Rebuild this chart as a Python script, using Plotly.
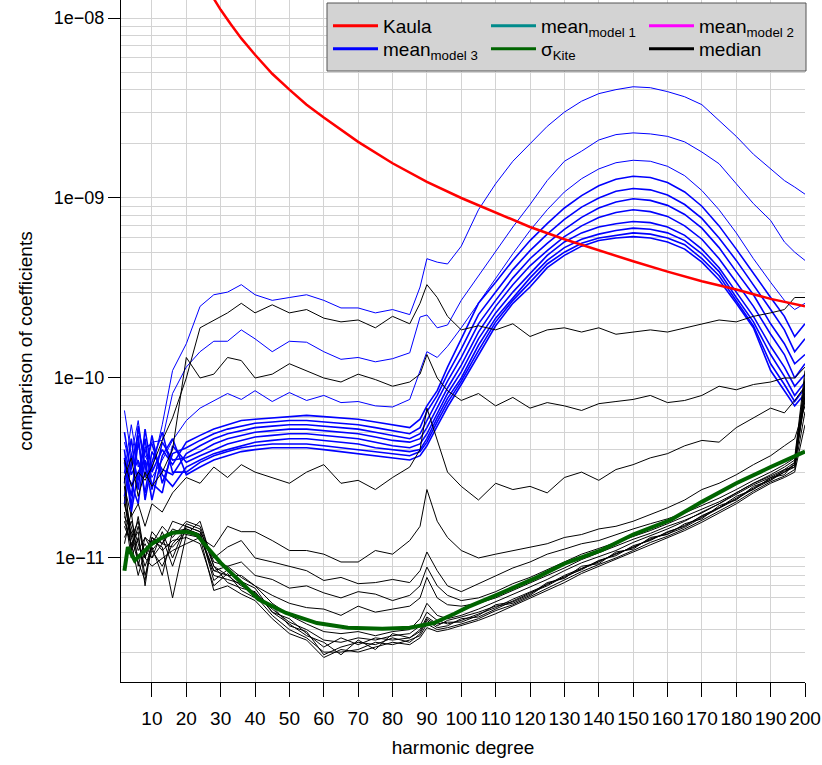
import plotly.graph_objects as go

# ---------------- data ----------------
deg = [2, 4, 6, 8, 10, 13, 16, 20,
       24, 28, 32, 36, 40, 45, 50, 55,
       60, 65, 70, 75, 80, 85, 88, 90,
       93, 96, 100, 105, 110, 115, 120, 125,
       130, 135, 140, 145, 150, 155, 160, 165,
       170, 175, 180, 185, 190, 194, 197, 200]

kaula_deg = [28, 30, 33, 36, 40, 45, 50, 55, 60, 70, 80, 90, 100, 110, 120,
             130, 140, 150, 160, 170, 180, 190, 200]
kaula = [1.28e-8, 1.11e-8, 9.2e-9, 7.7e-9, 6.25e-9, 4.9e-9, 4.0e-9, 3.3e-9, 2.8e-9,
         2.05e-9, 1.56e-9, 1.23e-9, 1.0e-9, 8.3e-10, 6.9e-10, 5.9e-10, 5.1e-10,
         4.45e-10, 3.9e-10, 3.45e-10, 3.1e-10, 2.75e-10, 2.5e-10]

sigma_deg = [2, 3, 5, 8, 10, 13, 16, 20, 23, 26, 30, 36, 41, 49, 58, 67, 77, 85,
             92, 98, 102, 110, 122, 130, 141, 150, 161, 170, 180, 190, 200]
sigma_kite = [8.5e-12, 1.15e-11, 9.7e-12, 1.1e-11, 1.2e-11, 1.3e-11, 1.38e-11, 1.4e-11,
              1.35e-11, 1.15e-11, 9.4e-12, 7.3e-12, 5.9e-12, 4.95e-12, 4.35e-12, 4.1e-12,
              4.05e-12, 4.1e-12, 4.35e-12, 4.9e-12, 5.35e-12, 6.2e-12, 7.8e-12, 9.3e-12,
              1.11e-11, 1.35e-11, 1.63e-11, 2.05e-11, 2.6e-11, 3.2e-11, 3.9e-11]

# model 3 means (blue)
blue_1 = [4.4e-11, 3.1e-11, 5.1e-11, 3.7e-11, 3.1e-11, 5.5e-11, 1.1e-10, 1.55e-10,
          2.5e-10, 2.9e-10, 3.0e-10, 3.3e-10, 2.9e-10, 2.7e-10, 2.8e-10, 2.9e-10,
          2.7e-10, 2.45e-10, 2.45e-10, 2.3e-10, 2.4e-10, 2.25e-10, 3.2e-10, 4.6e-10,
          4.4e-10, 4.3e-10, 5.4e-10, 8.6e-10, 1.2e-9, 1.6e-9, 2.0e-9, 2.5e-9,
          3.0e-9, 3.45e-9, 3.8e-9, 4.0e-9, 4.15e-9, 4.1e-9, 3.9e-9, 3.65e-9,
          3.3e-9, 2.7e-9, 2.2e-9, 1.75e-9, 1.45e-9, 1.25e-9, 1.15e-9, 1.05e-9]
blue_2 = [6.6e-11, 3.7e-11, 5.8e-11, 3.1e-11, 4.4e-11, 4.5e-11, 8.2e-11, 1.15e-10,
          1.4e-10, 1.6e-10, 1.6e-10, 1.85e-10, 1.65e-10, 1.4e-10, 1.6e-10, 1.58e-10,
          1.4e-10, 1.27e-10, 1.3e-10, 1.23e-10, 1.28e-10, 1.38e-10, 2.18e-10, 2.24e-10,
          1.9e-10, 1.97e-10, 2.7e-10, 3.7e-10, 5.0e-10, 6.9e-10, 9.2e-10, 1.25e-9,
          1.6e-9, 1.82e-9, 2.1e-9, 2.25e-9, 2.3e-9, 2.27e-9, 2.2e-9, 2.05e-9,
          1.8e-9, 1.55e-9, 1.2e-9, 9.3e-10, 7.5e-10, 5.7e-10, 5.0e-10, 4.5e-10]
blue_3 = [3.0e-11, 5.5e-11, 3.2e-11, 4.0e-11, 2.8e-11, 3.5e-11, 4.5e-11, 5.8e-11,
          6.8e-11, 7.5e-11, 8.2e-11, 7.6e-11, 8.5e-11, 7.4e-11, 8.3e-11, 7.5e-11,
          8.0e-11, 7.3e-11, 7.4e-11, 7.0e-11, 6.9e-11, 7.6e-11, 1.1e-10, 1.4e-10,
          1.3e-10, 1.5e-10, 1.9e-10, 2.6e-10, 3.6e-10, 4.9e-10, 6.6e-10, 8.6e-10,
          1.08e-9, 1.28e-9, 1.45e-9, 1.57e-9, 1.62e-9, 1.6e-9, 1.5e-9, 1.33e-9,
          1.1e-9, 8.6e-10, 6.4e-10, 4.6e-10, 3.4e-10, 2.7e-10, 2.4e-10, 2.6e-10]
blue_4 = [2.6e-11, 4.6e-11, 2.4e-11, 5.2e-11, 3.0e-11, 4.0e-11, 3.3e-11, 4.4e-11,
          4.8e-11, 5.2e-11, 5.5e-11, 5.8e-11, 5.9e-11, 6.0e-11, 6.1e-11, 6.2e-11,
          6.1e-11, 6.0e-11, 5.9e-11, 5.7e-11, 5.5e-11, 5.3e-11, 5.9e-11, 7.0e-11,
          8.5e-11, 1.15e-10, 1.65e-10, 2.6e-10, 3.4e-10, 4.5e-10, 5.8e-10, 7.2e-10,
          8.8e-10, 1.03e-9, 1.17e-9, 1.27e-9, 1.32e-9, 1.3e-9, 1.22e-9, 1.08e-9,
          9.0e-10, 7.0e-10, 5.2e-10, 3.8e-10, 2.8e-10, 2.2e-10, 1.7e-10, 2.0e-10]
blue_5 = [3.4e-11, 2.2e-11, 4.4e-11, 2.8e-11, 4.8e-11, 2.6e-11, 3.8e-11, 4.1e-11,
          4.5e-11, 4.9e-11, 5.2e-11, 5.4e-11, 5.6e-11, 5.7e-11, 5.8e-11, 5.8e-11,
          5.7e-11, 5.6e-11, 5.5e-11, 5.3e-11, 5.1e-11, 4.9e-11, 5.3e-11, 6.5e-11,
          8.0e-11, 1.05e-10, 1.45e-10, 2.25e-10, 3.0e-10, 4.0e-10, 5.1e-10, 6.3e-10,
          7.6e-10, 8.9e-10, 1.0e-9, 1.09e-9, 1.13e-9, 1.11e-9, 1.04e-9, 9.2e-10,
          7.7e-10, 6.0e-10, 4.5e-10, 3.3e-10, 2.4e-10, 1.85e-10, 1.4e-10, 1.65e-10]
blue_6 = [5.0e-11, 2.9e-11, 3.5e-11, 2.3e-11, 3.9e-11, 3.1e-11, 2.9e-11, 3.8e-11,
          4.2e-11, 4.6e-11, 4.9e-11, 5.1e-11, 5.3e-11, 5.4e-11, 5.5e-11, 5.5e-11,
          5.4e-11, 5.3e-11, 5.2e-11, 5.0e-11, 4.8e-11, 4.6e-11, 4.9e-11, 5.8e-11,
          7.4e-11, 9.6e-11, 1.3e-10, 2.0e-10, 2.7e-10, 3.6e-10, 4.6e-10, 5.6e-10,
          6.7e-10, 7.8e-10, 8.8e-10, 9.5e-10, 9.9e-10, 9.7e-10, 9.1e-10, 8.1e-10,
          6.8e-10, 5.3e-10, 3.9e-10, 2.9e-10, 2.0e-10, 1.55e-10, 1.2e-10, 1.35e-10]
blue_7 = [2.2e-11, 3.8e-11, 2.7e-11, 4.6e-11, 2.4e-11, 4.4e-11, 3.5e-11, 3.6e-11,
          3.9e-11, 4.3e-11, 4.6e-11, 4.8e-11, 5.0e-11, 5.1e-11, 5.2e-11, 5.2e-11,
          5.1e-11, 5.0e-11, 4.9e-11, 4.7e-11, 4.5e-11, 4.4e-11, 4.6e-11, 5.3e-11,
          6.8e-11, 8.8e-11, 1.18e-10, 1.8e-10, 2.5e-10, 3.3e-10, 4.2e-10, 5.1e-10,
          6.1e-10, 7.0e-10, 7.8e-10, 8.3e-10, 8.6e-10, 8.4e-10, 7.9e-10, 7.0e-10,
          5.9e-10, 4.6e-10, 3.4e-10, 2.5e-10, 1.75e-10, 1.35e-10, 1.0e-10, 1.2e-10]
blue_8 = [4.0e-11, 1.9e-11, 5.4e-11, 3.2e-11, 2.6e-11, 2.3e-11, 4.2e-11, 3.4e-11,
          3.7e-11, 4.0e-11, 4.3e-11, 4.5e-11, 4.7e-11, 4.8e-11, 4.9e-11, 4.9e-11,
          4.8e-11, 4.7e-11, 4.6e-11, 4.4e-11, 4.2e-11, 4.1e-11, 4.3e-11, 4.9e-11,
          6.3e-11, 8.2e-11, 1.08e-10, 1.65e-10, 2.3e-10, 3.0e-10, 3.8e-10, 4.8e-10,
          5.7e-10, 6.4e-10, 6.9e-10, 7.2e-10, 7.4e-10, 7.3e-10, 6.9e-10, 6.2e-10,
          5.2e-10, 4.1e-10, 3.0e-10, 2.2e-10, 1.5e-10, 1.15e-10, 9.0e-11, 1.05e-10]
blue_9 = [3.0e-11, 2.6e-11, 2.0e-11, 4.1e-11, 4.3e-11, 2.9e-11, 2.5e-11, 3.2e-11,
          3.5e-11, 3.8e-11, 4.0e-11, 4.2e-11, 4.4e-11, 4.5e-11, 4.6e-11, 4.6e-11,
          4.5e-11, 4.4e-11, 4.3e-11, 4.1e-11, 4.0e-11, 3.9e-11, 4.0e-11, 4.6e-11,
          6.0e-11, 7.7e-11, 1.0e-10, 1.52e-10, 2.15e-10, 2.8e-10, 3.6e-10, 4.5e-10,
          5.3e-10, 5.9e-10, 6.3e-10, 6.6e-10, 6.8e-10, 6.7e-10, 6.4e-10, 5.8e-10,
          4.9e-10, 3.9e-10, 2.8e-10, 2.05e-10, 1.35e-10, 1.02e-10, 8.0e-11, 9.5e-11]
blue_10 = [2.0e-11, 3.3e-11, 4.8e-11, 2.1e-11, 3.4e-11, 5.0e-11, 3.0e-11, 3.0e-11,
           3.4e-11, 3.7e-11, 3.9e-11, 4.1e-11, 4.2e-11, 4.3e-11, 4.3e-11, 4.3e-11,
           4.2e-11, 4.1e-11, 4.0e-11, 3.9e-11, 3.8e-11, 3.7e-11, 3.9e-11, 4.4e-11,
           5.7e-11, 7.3e-11, 9.6e-11, 1.42e-10, 2.05e-10, 2.7e-10, 3.4e-10, 4.3e-10,
           5.0e-10, 5.6e-10, 6.0e-10, 6.2e-10, 6.4e-10, 6.3e-10, 6.0e-10, 5.5e-10,
           4.6e-10, 3.7e-10, 2.7e-10, 1.95e-10, 1.2e-10, 9.2e-11, 7.4e-11, 8.8e-11]
blue_11 = [3.6e-11, 1.8e-11, 3.0e-11, 3.5e-11, 2.1e-11, 3.7e-11, 4.6e-11, 2.9e-11,
           3.2e-11, 3.5e-11, 3.7e-11, 3.9e-11, 4.0e-11, 4.1e-11, 4.1e-11, 4.1e-11,
           4.0e-11, 3.9e-11, 3.8e-11, 3.7e-11, 3.6e-11, 3.5e-11, 3.7e-11, 4.2e-11,
           5.4e-11, 6.9e-11, 9.2e-11, 1.35e-10, 1.95e-10, 2.6e-10, 3.2e-10, 4.1e-10,
           4.8e-10, 5.4e-10, 5.8e-10, 6.0e-10, 6.1e-10, 6.0e-10, 5.7e-10, 5.2e-10,
           4.4e-10, 3.5e-10, 2.6e-10, 1.9e-10, 1.1e-10, 8.5e-11, 7.0e-11, 8.2e-11]

# medians (black)
black_1 = [3.5e-11, 2.5e-11, 3.0e-11, 2.7e-11, 3.2e-11, 4.5e-11, 6.0e-11, 1.0e-10,
           1.9e-10, 2.1e-10, 2.3e-10, 2.6e-10, 2.3e-10, 2.55e-10, 2.3e-10, 2.4e-10,
           2.15e-10, 2.05e-10, 2.1e-10, 1.9e-10, 2.2e-10, 2.0e-10, 2.6e-10, 3.3e-10,
           2.8e-10, 2.2e-10, 1.85e-10, 1.95e-10, 1.85e-10, 2.0e-10, 1.7e-10, 1.85e-10,
           1.9e-10, 1.8e-10, 1.9e-10, 1.75e-10, 1.8e-10, 1.85e-10, 1.8e-10, 1.9e-10,
           2.0e-10, 2.1e-10, 2.05e-10, 2.2e-10, 2.3e-10, 2.4e-10, 2.8e-10, 2.8e-10]
black_2 = [2.8e-11, 3.6e-11, 2.2e-11, 3.0e-11, 2.5e-11, 3.0e-11, 4.0e-11, 1.3e-10,
           1.0e-10, 1.05e-10, 1.3e-10, 1.25e-10, 1.0e-10, 1.05e-10, 1.2e-10, 1.1e-10,
           1.0e-10, 9.5e-11, 1.05e-10, 9.8e-11, 9.0e-11, 9.5e-11, 1.05e-10, 1.35e-10,
           1.0e-10, 8.5e-11, 7.5e-11, 8.2e-11, 7.0e-11, 7.8e-11, 6.8e-11, 7.3e-11,
           7.0e-11, 6.6e-11, 7.2e-11, 7.4e-11, 7.6e-11, 8.0e-11, 7.3e-11, 7.5e-11,
           8.0e-11, 9.0e-11, 8.6e-11, 9.2e-11, 9.5e-11, 1.0e-10, 1.0e-10, 1.15e-10]
black_3 = [2.5e-11, 1.7e-11, 2.0e-11, 1.5e-11, 2.0e-11, 1.8e-11, 2.3e-11, 2.8e-11,
           2.6e-11, 3.2e-11, 2.8e-11, 3.3e-11, 3.0e-11, 2.8e-11, 2.6e-11, 3.0e-11,
           3.3e-11, 2.6e-11, 2.7e-11, 2.4e-11, 2.8e-11, 3.2e-11, 4.0e-11, 6.8e-11,
           4.5e-11, 3.0e-11, 2.5e-11, 2.1e-11, 2.6e-11, 2.4e-11, 2.5e-11, 2.3e-11,
           2.8e-11, 3.0e-11, 2.7e-11, 3.1e-11, 3.3e-11, 3.6e-11, 3.8e-11, 4.2e-11,
           4.5e-11, 4.4e-11, 5.3e-11, 6.0e-11, 6.8e-11, 6.4e-11, 7.5e-11, 9.0e-11]
black_4 = [2.0e-11, 1.3e-11, 1.6e-11, 1.0e-11, 1.3e-11, 1.2e-11, 1.45e-11, 1.35e-11,
           1.3e-11, 1.15e-11, 1.5e-11, 1.4e-11, 1.4e-11, 1.25e-11, 1.1e-11, 1.1e-11,
           1.05e-11, 9.5e-12, 9.5e-12, 1.1e-11, 1.05e-11, 1.25e-11, 1.5e-11, 2.4e-11,
           1.6e-11, 1.3e-11, 1.1e-11, 1.0e-11, 1.05e-11, 1.1e-11, 1.15e-11, 1.2e-11,
           1.3e-11, 1.35e-11, 1.45e-11, 1.5e-11, 1.6e-11, 1.75e-11, 1.9e-11, 2.1e-11,
           2.4e-11, 2.6e-11, 2.9e-11, 3.3e-11, 3.7e-11, 4.2e-11, 4.6e-11, 7.0e-11]
black_5 = [2.8e-11, 1.1e-11, 1.7e-11, 1.0e-11, 1.4e-11, 1.2e-11, 1.6e-11, 1.5e-11,
           1.4e-11, 1.0e-11, 1.15e-11, 1.25e-11, 1.0e-11, 9.5e-12, 9.0e-12, 8.5e-12,
           7.5e-12, 7.8e-12, 7.2e-12, 7.3e-12, 7.6e-12, 7.3e-12, 8.5e-12, 1.08e-11,
           8.5e-12, 7.0e-12, 6.5e-12, 7.2e-12, 8.0e-12, 8.8e-12, 9.5e-12, 1.05e-11,
           1.12e-11, 1.2e-11, 1.25e-11, 1.35e-11, 1.45e-11, 1.55e-11, 1.65e-11, 1.78e-11,
           1.95e-11, 2.15e-11, 2.4e-11, 2.7e-11, 3.0e-11, 3.3e-11, 3.6e-11, 1.1e-10]
black_6 = [1.2e-11, 1.8e-11, 9.0e-12, 1.3e-11, 1.1e-11, 9.0e-12, 1.2e-11, 1.45e-11,
           1.35e-11, 8.5e-12, 9.0e-12, 9.5e-12, 8.0e-12, 7.6e-12, 6.8e-12, 7.0e-12,
           6.4e-12, 6.0e-12, 6.5e-12, 6.3e-12, 5.8e-12, 6.2e-12, 7.0e-12, 8.9e-12,
           7.0e-12, 6.2e-12, 5.8e-12, 6.0e-12, 6.5e-12, 7.2e-12, 7.8e-12, 8.6e-12,
           9.5e-12, 1.05e-11, 1.13e-11, 1.22e-11, 1.32e-11, 1.42e-11, 1.55e-11, 1.7e-11,
           1.85e-11, 2.05e-11, 2.3e-11, 2.6e-11, 2.85e-11, 3.1e-11, 3.4e-11, 9.5e-11]
black_7 = [1.6e-11, 1.2e-11, 1.4e-11, 7.0e-12, 1.25e-11, 1.15e-11, 6.0e-12, 1.35e-11,
           1.6e-11, 9.0e-12, 8.0e-12, 8.0e-12, 7.0e-12, 6.2e-12, 5.6e-12, 5.3e-12,
           5.2e-12, 4.8e-12, 5.4e-12, 5.0e-12, 5.2e-12, 5.4e-12, 6.0e-12, 7.8e-12,
           6.0e-12, 5.5e-12, 5.4e-12, 5.6e-12, 6.0e-12, 6.6e-12, 7.3e-12, 8.0e-12,
           8.8e-12, 9.8e-12, 1.07e-11, 1.16e-11, 1.27e-11, 1.37e-11, 1.5e-11, 1.62e-11,
           1.78e-11, 2.0e-11, 2.25e-11, 2.55e-11, 2.8e-11, 3.05e-11, 3.3e-11, 8.0e-11]
black_8 = [2.0e-11, 1.5e-11, 1.1e-11, 1.3e-11, 1.2e-11, 1.5e-11, 1.3e-11, 1.6e-11,
           1.5e-11, 9.5e-12, 9.0e-12, 7.8e-12, 7.0e-12, 5.6e-12, 4.8e-12, 4.3e-12,
           3.9e-12, 3.8e-12, 3.9e-12, 3.7e-12, 3.9e-12, 4.0e-12, 4.6e-12, 5.6e-12,
           4.8e-12, 4.6e-12, 4.8e-12, 5.2e-12, 5.7e-12, 6.3e-12, 6.9e-12, 7.6e-12,
           8.5e-12, 9.4e-12, 1.02e-11, 1.1e-11, 1.22e-11, 1.33e-11, 1.45e-11, 1.6e-11,
           1.8e-11, 2.0e-11, 2.3e-11, 2.6e-11, 2.9e-11, 3.2e-11, 3.5e-11, 1.0e-10]
black_9 = [1.5e-11, 1.2e-11, 8.0e-12, 1.1e-11, 1.0e-11, 1.2e-11, 1.15e-11, 1.4e-11,
           1.3e-11, 8.5e-12, 8.0e-12, 7.0e-12, 6.4e-12, 5.2e-12, 4.4e-12, 4.0e-12,
           3.5e-12, 3.4e-12, 3.6e-12, 3.5e-12, 3.7e-12, 3.8e-12, 4.2e-12, 5.0e-12,
           4.5e-12, 4.3e-12, 4.5e-12, 4.9e-12, 5.3e-12, 5.9e-12, 6.5e-12, 7.1e-12,
           8.0e-12, 8.8e-12, 9.6e-12, 1.05e-11, 1.15e-11, 1.27e-11, 1.38e-11, 1.52e-11,
           1.7e-11, 1.9e-11, 2.15e-11, 2.45e-11, 2.75e-11, 3.0e-11, 3.3e-11, 8.5e-11]
black_10 = [1.8e-11, 1.0e-11, 1.3e-11, 8.0e-12, 1.1e-11, 1.3e-11, 9.0e-12, 1.5e-11,
            1.4e-11, 7.5e-12, 8.6e-12, 7.4e-12, 6.8e-12, 5.0e-12, 4.6e-12, 3.8e-12,
            3.2e-12, 3.6e-12, 3.3e-12, 3.6e-12, 3.5e-12, 3.6e-12, 4.0e-12, 4.7e-12,
            4.3e-12, 4.4e-12, 4.4e-12, 4.8e-12, 5.5e-12, 5.7e-12, 6.3e-12, 7.3e-12,
            7.7e-12, 9.0e-12, 9.3e-12, 1.08e-11, 1.12e-11, 1.3e-11, 1.35e-11, 1.55e-11,
            1.65e-11, 1.95e-11, 2.1e-11, 2.5e-11, 2.7e-11, 3.1e-11, 3.2e-11, 9.0e-11]
black_11 = [2.5e-11, 1.3e-11, 9.5e-12, 7.5e-12, 1.3e-11, 1.1e-11, 1.25e-11, 1.3e-11,
            1.2e-11, 7.0e-12, 8.2e-12, 6.6e-12, 6.0e-12, 5.4e-12, 4.2e-12, 3.9e-12,
            2.9e-12, 3.2e-12, 3.4e-12, 3.3e-12, 3.6e-12, 3.4e-12, 3.8e-12, 4.5e-12,
            4.1e-12, 4.2e-12, 4.6e-12, 4.7e-12, 5.2e-12, 5.8e-12, 6.4e-12, 7.0e-12,
            7.9e-12, 8.6e-12, 9.7e-12, 1.03e-11, 1.17e-11, 1.25e-11, 1.4e-11, 1.5e-11,
            1.72e-11, 1.9e-11, 2.2e-11, 2.4e-11, 2.8e-11, 2.9e-11, 3.4e-11, 7.5e-11]
black_12 = [1.3e-11, 1.6e-11, 1.2e-11, 9.0e-12, 1.15e-11, 8.0e-12, 1.4e-11, 1.45e-11,
            1.35e-11, 8.0e-12, 7.6e-12, 7.2e-12, 6.2e-12, 4.8e-12, 4.0e-12, 3.6e-12,
            3.0e-12, 3.0e-12, 3.1e-12, 3.4e-12, 3.3e-12, 3.5e-12, 3.7e-12, 4.3e-12,
            4.0e-12, 4.1e-12, 4.3e-12, 4.6e-12, 5.1e-12, 5.5e-12, 6.1e-12, 6.8e-12,
            7.5e-12, 8.4e-12, 9.2e-12, 1.0e-11, 1.1e-11, 1.22e-11, 1.32e-11, 1.45e-11,
            1.62e-11, 1.82e-11, 2.05e-11, 2.35e-11, 2.65e-11, 2.85e-11, 3.1e-11, 6.5e-11]
black_13 = [2.2e-11, 1.1e-11, 1.5e-11, 1.0e-11, 9.0e-12, 1.0e-11, 1.1e-11, 1.2e-11,
            1.3e-11, 6.6e-12, 7.0e-12, 6.3e-12, 5.8e-12, 4.6e-12, 3.8e-12, 3.5e-12,
            2.8e-12, 3.1e-12, 3.0e-12, 3.2e-12, 3.4e-12, 3.3e-12, 3.6e-12, 4.1e-12,
            3.9e-12, 4.0e-12, 4.2e-12, 4.5e-12, 4.9e-12, 5.4e-12, 6.0e-12, 6.6e-12,
            7.3e-12, 8.2e-12, 9.0e-12, 9.8e-12, 1.08e-11, 1.18e-11, 1.3e-11, 1.42e-11,
            1.58e-11, 1.78e-11, 2.0e-11, 2.3e-11, 2.6e-11, 2.8e-11, 3.0e-11, 5.5e-11]
black_14 = [1.7e-11, 1.4e-11, 1.0e-11, 1.2e-11, 1.0e-11, 1.4e-11, 1.0e-11, 1.55e-11,
            1.45e-11, 9.0e-12, 7.3e-12, 6.8e-12, 6.5e-12, 5.0e-12, 4.3e-12, 3.7e-12,
            3.4e-12, 2.9e-12, 3.5e-12, 3.1e-12, 3.8e-12, 3.6e-12, 3.9e-12, 4.6e-12,
            4.2e-12, 4.5e-12, 4.7e-12, 5.0e-12, 5.4e-12, 5.6e-12, 6.2e-12, 7.2e-12,
            7.8e-12, 8.7e-12, 9.5e-12, 1.06e-11, 1.14e-11, 1.28e-11, 1.36e-11, 1.48e-11,
            1.68e-11, 1.88e-11, 2.12e-11, 2.42e-11, 2.7e-11, 3.0e-11, 3.2e-11, 8.0e-11]

x_tick_vals = list(range(10, 201, 10))
y_tick_vals = [1e-11, 1e-10, 1e-9, 1e-8]
y_tick_text = ["1e\u221211", "1e\u221210", "1e\u221209", "1e\u221208"]

blue_outer = [blue_1, blue_2, blue_3]
blue_band = [blue_4, blue_5, blue_6, blue_7, blue_8, blue_9, blue_10, blue_11]
black_series = [black_1, black_2, black_3, black_4, black_5, black_6, black_7,
                black_8, black_9, black_10, black_11, black_12, black_13, black_14]

# ---------------- figure ----------------
fig = go.Figure()
for s in blue_outer:
    fig.add_trace(go.Scatter(x=deg, y=s, mode="lines", line=dict(color="#0000FF", width=1),
                             showlegend=False, hoverinfo="skip"))
for s in blue_band:
    fig.add_trace(go.Scatter(x=deg, y=s, mode="lines", line=dict(color="#0000FF", width=1.6),
                             showlegend=False, hoverinfo="skip"))
for s in black_series:
    fig.add_trace(go.Scatter(x=deg, y=s, mode="lines", line=dict(color="#000000", width=1),
                             showlegend=False, hoverinfo="skip"))
fig.add_trace(go.Scatter(x=sigma_deg, y=sigma_kite, mode="lines",
                         line=dict(color="#006400", width=4), showlegend=False, hoverinfo="skip"))
fig.add_trace(go.Scatter(x=kaula_deg, y=kaula, mode="lines",
                         line=dict(color="#FF0000", width=2.5), showlegend=False, hoverinfo="skip"))

# legend entries (two rows)
row1 = [("Kaula", "#FF0000"), ("mean<sub>model 1</sub>", "#008B8B"), ("mean<sub>model 2</sub>", "#FF00FF")]
row2 = [("mean<sub>model 3</sub>", "#0000FF"), ("\u03c3<sub>Kite</sub>", "#006400"), ("median", "#000000")]
for name, col in row1:
    fig.add_trace(go.Scatter(x=[None], y=[None], mode="lines", name=name,
                             line=dict(color=col, width=3), legend="legend"))
for name, col in row2:
    fig.add_trace(go.Scatter(x=[None], y=[None], mode="lines", name=name,
                             line=dict(color=col, width=3), legend="legend2"))

W, H = 822, 765
L, R, T, B = 121, 17, 0, 83
pw, ph = W - L - R, H - T - B


def px_x(p):
    return (p - L) / pw


def px_y(p):
    return 1 - (p - T) / ph


minor_vals = [m * 10.0 ** e for e in range(-12, -7) for m in range(2, 10)]
grid_col = "#d3d3d3"
FS = 19

fig.update_layout(
    width=W, height=H,
    margin=dict(l=L, r=R, t=T, b=B),
    plot_bgcolor="white", paper_bgcolor="white",
    font=dict(family="Liberation Sans, Arial, sans-serif", size=FS, color="black"),
    showlegend=True,
    xaxis=dict(range=[1, 200], tickmode="array", tickvals=x_tick_vals,
               ticks="outside", ticklen=14, tickcolor="black", tickwidth=1,
               tickfont=dict(size=FS),
               showgrid=True, gridcolor=grid_col, gridwidth=1,
               showline=True, linecolor="black", linewidth=1, zeroline=False,
               ticklabelstandoff=5,
               title=dict(text="harmonic degree", standoff=12, font=dict(size=FS))),
    yaxis=dict(type="log", range=[-11.689, -7.9], tickmode="array",
               tickvals=y_tick_vals, ticktext=y_tick_text,
               ticks="outside", ticklen=12, tickcolor="black", tickwidth=1,
               tickfont=dict(size=18),
               showgrid=True, gridcolor=grid_col, gridwidth=1,
               minor=dict(tickmode="array", tickvals=minor_vals, showgrid=True,
                          gridcolor=grid_col, gridwidth=1, ticks=""),
               showline=True, linecolor="black", linewidth=1, zeroline=False,
               ticklabelstandoff=0,
               title=dict(text="comparison of coefficients", standoff=16, font=dict(size=FS))),
    legend=dict(orientation="h", x=px_x(328), xanchor="left", y=px_y(7), yanchor="top",
                bgcolor="rgba(0,0,0,0)", borderwidth=0, entrywidth=98,
                entrywidthmode="pixels", itemwidth=45, font=dict(size=FS)),
    legend2=dict(orientation="h", x=px_x(328), xanchor="left", y=px_y(30), yanchor="top",
                 bgcolor="rgba(0,0,0,0)", borderwidth=0, entrywidth=98,
                 entrywidthmode="pixels", itemwidth=45, font=dict(size=FS)),
    shapes=[dict(type="rect", xref="paper", yref="paper",
                 x0=px_x(327), x1=px_x(806), y0=px_y(71), y1=px_y(3),
                 fillcolor="#d3d3d3", line=dict(color="#555555", width=1), layer="above")],
)

fig.write_html("out.html")
